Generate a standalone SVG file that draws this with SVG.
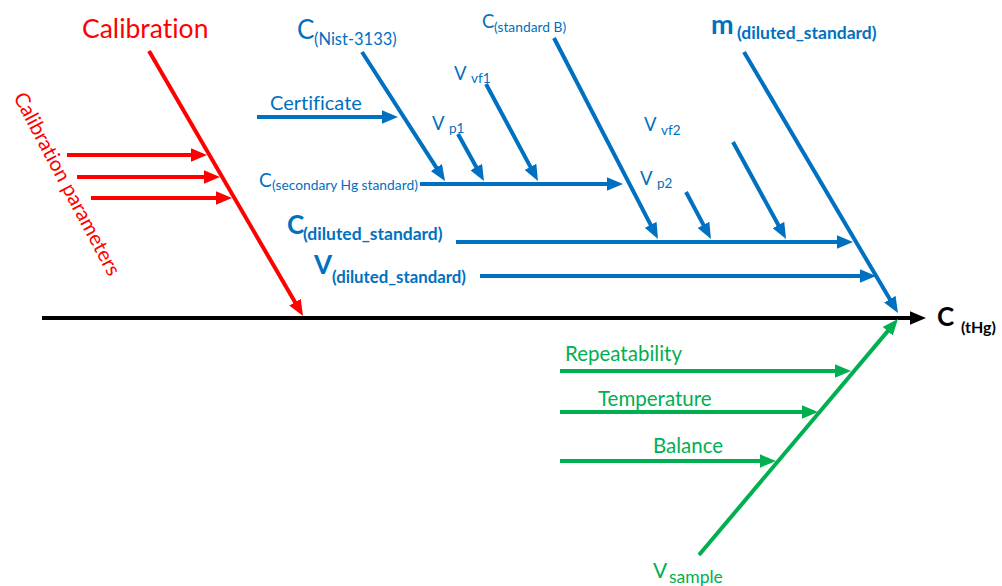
<svg xmlns="http://www.w3.org/2000/svg" width="1002" height="586" viewBox="0 0 1002 586">
<style>
text{font-family:Lato,"Open Sans","Liberation Sans",sans-serif;font-variant-ligatures:none}
.r{fill:#FF0000}.b{fill:#0070C0}.g{fill:#00B050}.k{fill:#000}
.bd{font-weight:bold}
.lr{stroke:#FF0000;stroke-width:4;fill:none;marker-end:url(#mr)}
.lb{stroke:#0070C0;stroke-width:4;fill:none;marker-end:url(#mb)}
.lg{stroke:#00B050;stroke-width:4;fill:none;marker-end:url(#mg)}
.lk{stroke:#000;stroke-width:4;fill:none;marker-end:url(#mk)}
</style>
<defs>
<marker id="mr" viewBox="0 0 12 10" refX="6" refY="5" markerWidth="4" markerHeight="3.33" orient="auto"><path d="M0,0L12,5L0,10z" fill="#FF0000"/></marker>
<marker id="mb" viewBox="0 0 12 10" refX="6" refY="5" markerWidth="4" markerHeight="3.33" orient="auto"><path d="M0,0L12,5L0,10z" fill="#0070C0"/></marker>
<marker id="mg" viewBox="0 0 12 10" refX="6" refY="5" markerWidth="4" markerHeight="3.33" orient="auto"><path d="M0,0L12,5L0,10z" fill="#00B050"/></marker>
<marker id="mk" viewBox="0 0 12 10" refX="6" refY="5" markerWidth="4" markerHeight="3.33" orient="auto"><path d="M0,0L12,5L0,10z" fill="#000"/></marker>
</defs>
<g id="connectors">
<line class="lk" x1="42" y1="318" x2="918" y2="318"/>
<line class="lr" x1="149" y1="51" x2="299" y2="309.1"/>
<line class="lr" x1="67" y1="155" x2="199" y2="155"/>
<line class="lr" x1="77" y1="177" x2="212" y2="177"/>
<line class="lr" x1="91" y1="198" x2="224" y2="198"/>
<line class="lb" x1="362" y1="52" x2="440.7" y2="174.3"/>
<line class="lb" x1="257" y1="117" x2="390" y2="117"/>
<line class="lb" x1="420" y1="184" x2="615" y2="184"/>
<line class="lb" x1="458" y1="134" x2="480.1" y2="174"/>
<line class="lb" x1="486" y1="84" x2="534.2" y2="173.9"/>
<line class="lb" x1="554" y1="38" x2="654.3" y2="231.9"/>
<line class="lb" x1="686" y1="192" x2="707.2" y2="231.9"/>
<line class="lb" x1="733" y1="142" x2="782.2" y2="232"/>
<line class="lb" x1="456" y1="242" x2="845" y2="242"/>
<line class="lb" x1="480" y1="276" x2="868" y2="276"/>
<line class="lb" x1="744" y1="52" x2="893.9" y2="306.1"/>
<line class="lg" x1="699" y1="555" x2="892.8" y2="325.1"/>
<line class="lg" x1="560" y1="371" x2="843" y2="371"/>
<line class="lg" x1="560" y1="412" x2="810" y2="412"/>
<line class="lg" x1="560" y1="461" x2="768" y2="461"/>
</g>
<g id="calibration"><text class="r" x="82" y="38" font-size="26.5">Calibration</text></g>
<g id="calibration-parameters"><text class="r" font-size="20.5" transform="translate(13,97) rotate(62)">Calibration parameters</text></g>
<g id="c-nist"><text class="b" x="297" y="39" font-size="26">C<tspan x="314" y="45" font-size="16.5">(Nist-3133)</tspan></text></g>
<g id="certificate"><text class="b" x="270" y="110" font-size="20">Certificate</text></g>
<g id="c-secondary"><text class="b" x="259" y="187" font-size="19">C<tspan x="272" y="190" font-size="13.8">(secondary Hg standard)</tspan></text></g>
<g id="v-p1"><text class="b" x="432" y="130" font-size="18.5">V<tspan x="449" y="133" font-size="13.5">p1</tspan></text></g>
<g id="v-vf1"><text class="b" x="454" y="80" font-size="18.5">V<tspan x="471" y="83" font-size="13.5">vf1</tspan></text></g>
<g id="c-standard-b"><text class="b" x="482" y="28" font-size="18.5">C<tspan x="494" y="32" font-size="13.8">(standard B)</tspan></text></g>
<g id="v-vf2"><text class="b" x="644" y="131" font-size="18.5">V<tspan x="661" y="135" font-size="13.5">vf2</tspan></text></g>
<g id="v-p2"><text class="b" x="640" y="185" font-size="18.5">V<tspan x="657" y="188" font-size="13.5">p2</tspan></text></g>
<g id="m-diluted"><text class="b bd" x="711" y="34" font-size="27">m<tspan x="737" y="39" font-size="17.5">(diluted_standard)</tspan></text></g>
<g id="c-diluted"><text class="b bd" x="287" y="234" font-size="26">C<tspan x="303" y="240" font-size="17.5">(diluted_standard)</tspan></text></g>
<g id="v-diluted"><text class="b bd" x="314" y="274" font-size="26">V<tspan x="332" y="283" font-size="16.8">(diluted_standard)</tspan></text></g>
<g id="c-thg"><text class="k bd" x="937" y="326" font-size="26">C<tspan x="961" y="333" font-size="16">(tHg)</tspan></text></g>
<g id="repeatability"><text class="g" x="565" y="361" font-size="20.5">Repeatability</text></g>
<g id="temperature"><text class="g" x="598" y="406" font-size="20.5">Temperature</text></g>
<g id="balance"><text class="g" x="653" y="453" font-size="20.5">Balance</text></g>
<g id="v-sample"><text class="g" x="653" y="578" font-size="21">V<tspan x="669" y="583" font-size="17.5">sample</tspan></text></g>
</svg>
